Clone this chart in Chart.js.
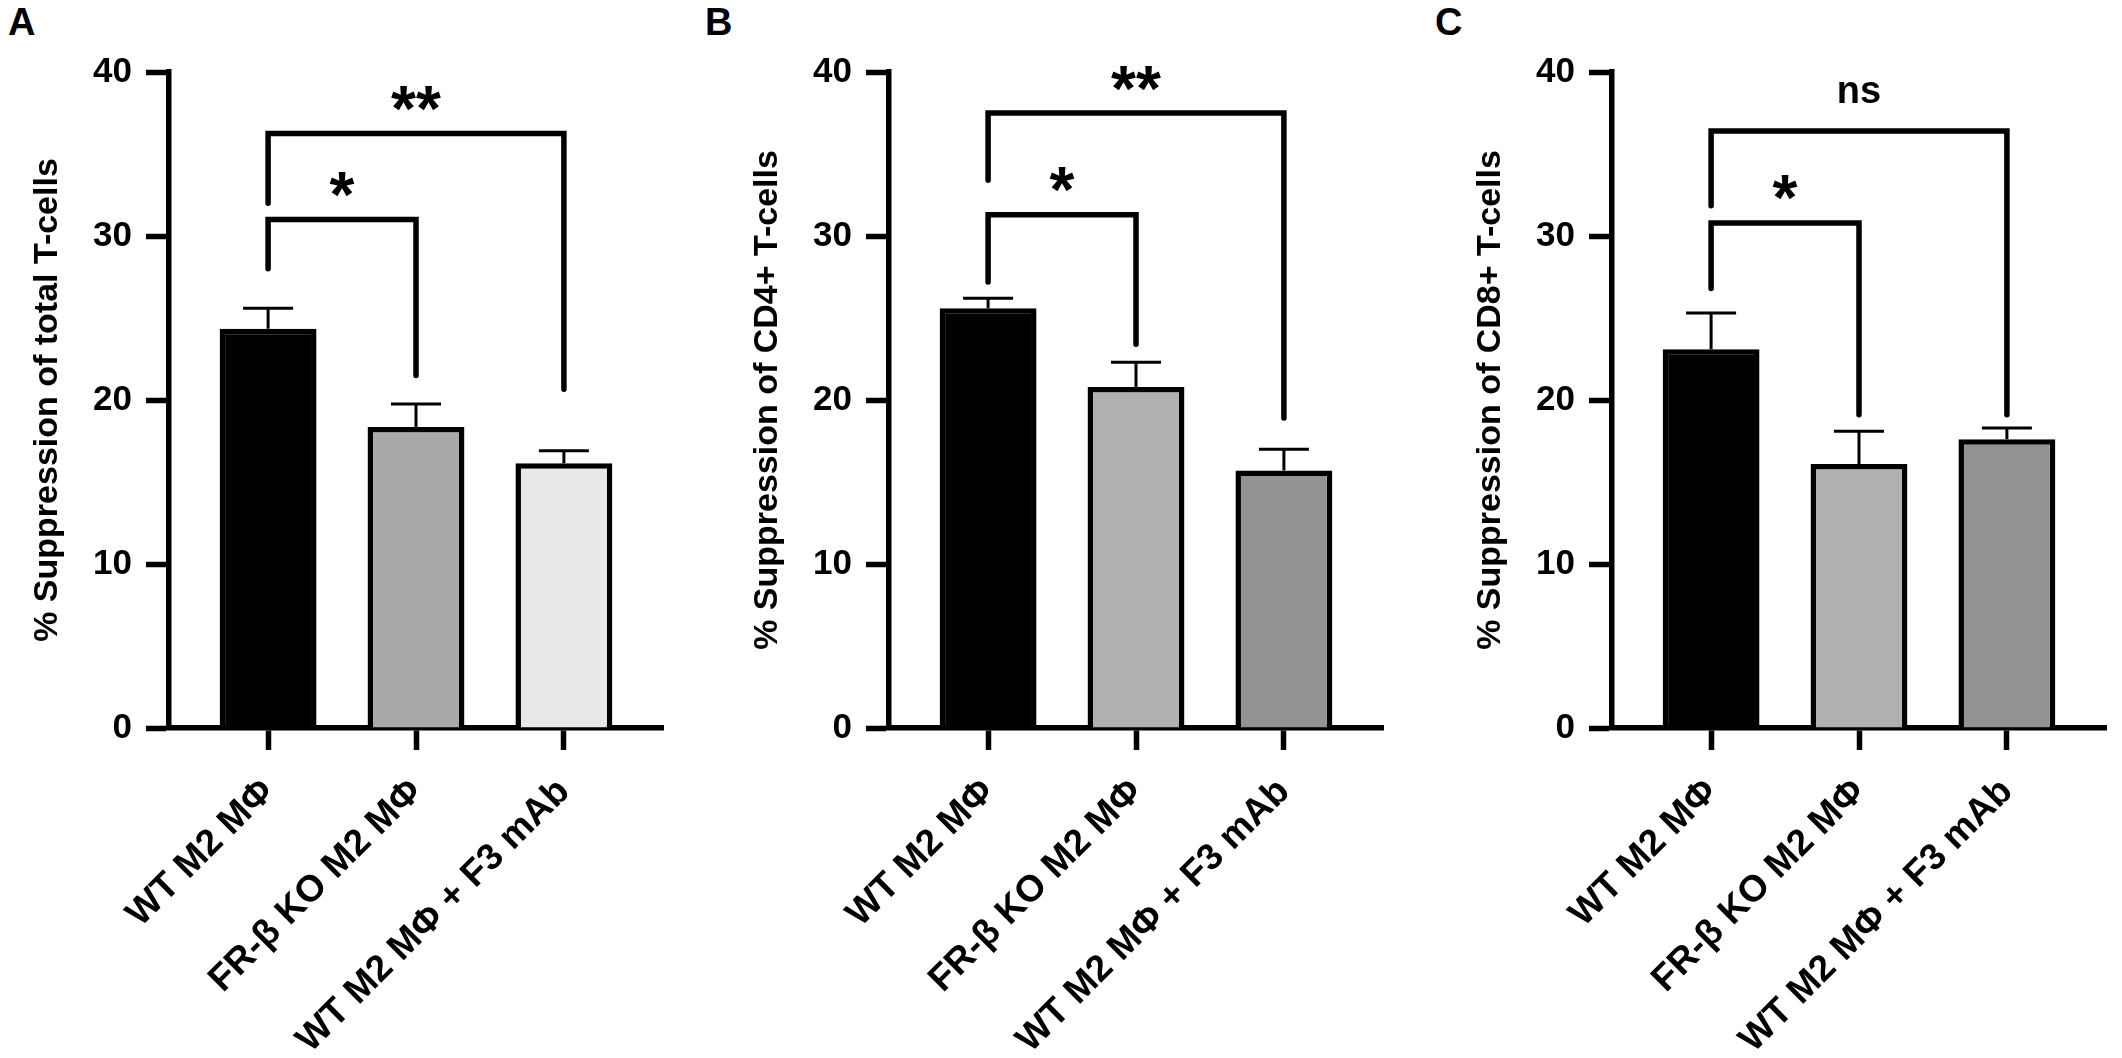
<!DOCTYPE html>
<html>
<head>
<meta charset="utf-8">
<script src="https://cdn.jsdelivr.net/npm/chart.js@4.4.1/dist/chart.umd.min.js"></script>
<style>
  html, body { margin: 0; padding: 0; background: #fff; overflow: hidden; }
  body { width: 2122px; height: 1058px; position: relative; }
  canvas { position: absolute; top: 0; }
  .panel-letter {
    position: absolute; top: 3px;
    font: bold 38px Arial, "Liberation Sans", sans-serif;
    line-height: 38px; color: #000;
  }
</style>
</head>
<body>
<div class="panel-letter" style="left:8px">A</div>
<div class="panel-letter" style="left:705px">B</div>
<div class="panel-letter" style="left:1435px">C</div>
<canvas id="chartTotal" width="720" height="1058" style="left:0px"></canvas>
<canvas id="chartCD4" width="720" height="1058" style="left:720px"></canvas>
<canvas id="chartCD8" width="720" height="1058" style="left:1443px"></canvas>
<script>
const categories = ["WT M2 MΦ", "FR-β KO M2 MΦ", "WT M2 MΦ + F3 mAb"];
const yTickValues = [0, 10, 20, 30, 40];

// % suppression, mean and upper SEM
const totalValues = [24.35, 18.35, 16.15];
const totalErrors = [1.25, 1.4, 0.75];
const cd4Values = [25.6, 20.8, 15.7];
const cd4Errors = [0.6, 1.5, 1.3];
const cd8Values = [23.1, 16.1, 17.6];
const cd8Errors = [2.2, 2.0, 0.7];

// significance brackets: [from, to, level, left leg end, right leg end, label]
const totalBrackets = [
  [0, 1, 31.0, 28.0, 21.5, "*"],
  [0, 2, 36.25, 32.0, 20.65, "**"],
];
const cd4Brackets = [
  [0, 1, 31.3, 27.2, 23.4, "*"],
  [0, 2, 37.5, 33.4, 18.9, "**"],
];
const cd8Brackets = [
  [0, 1, 30.8, 26.8, 19.1, "*"],
  [0, 2, 36.4, 31.85, 19.1, "ns"],
];

const totalColors = ["#000000", "#a9a9a9", "#e8e8e8"];
const cd48Colors = ["#000000", "#b0b0b0", "#939393"];

const FONT = "Arial, 'Liberation Sans', sans-serif";

// error bars (upper only) + brackets
const prismPlugin = {
  id: "prism",
  afterDatasetsDraw(chart) {
    const ctx = chart.ctx;
    const xs = chart.scales.x;
    const ys = chart.scales.y;
    const vals = chart.data.datasets[0].data;
    const errs = chart.options.plugins.prism.errors;
    ctx.save();
    ctx.strokeStyle = "#000";
    ctx.lineWidth = 3;
    ctx.lineCap = "butt";
    vals.forEach((p, i) => {
      const x = xs.getPixelForValue(p.x);
      const y0 = ys.getPixelForValue(p.y);
      const y1 = ys.getPixelForValue(p.y + errs[i]);
      ctx.beginPath();
      ctx.moveTo(x, y0);
      ctx.lineTo(x, y1);
      ctx.moveTo(x - 25, y1);
      ctx.lineTo(x + 25, y1);
      ctx.stroke();
    });

    const brackets = chart.options.plugins.prism.brackets;
    ctx.lineWidth = 5.5;
    ctx.lineCap = "round";
    ctx.lineJoin = "miter";
    brackets.forEach((b) => {
      const xa = xs.getPixelForValue(b[0]);
      const xb = xs.getPixelForValue(b[1]);
      const yl = ys.getPixelForValue(b[2]);
      ctx.beginPath();
      ctx.moveTo(xa, ys.getPixelForValue(b[3]));
      ctx.lineTo(xa, yl);
      ctx.lineTo(xb, yl);
      ctx.lineTo(xb, ys.getPixelForValue(b[4]));
      ctx.stroke();

      const star = b[5] !== "ns";
      ctx.font = "bold " + (star ? 64 : 38) + "px " + FONT;
      ctx.fillStyle = "#000";
      ctx.textAlign = "center";
      ctx.textBaseline = "alphabetic";
      const m = ctx.measureText(b[5]);
      const cy = yl - (star ? 35 : 39);
      const base = cy + (m.actualBoundingBoxAscent - m.actualBoundingBoxDescent) / 2;
      ctx.fillText(b[5], (xa + xb) / 2, base);
    });
    ctx.restore();
  },
};

function makePanel(id, values, errors, colors, brackets, yTitle) {
  const ctx = document.getElementById(id).getContext("2d");

  const dataBAR = {
    datasets: [
      {
        data: values.map((v, i) => ({ x: i, y: v })),
        backgroundColor: colors,
        borderColor: "#000",
        borderWidth: 5.5,
        categoryPercentage: 0.655,
        barPercentage: 1,
      },
    ],
  };

  const settingsBAR = {
    responsive: false,
    animation: false,
    layout: { padding: { top: 72, right: 57, left: 0, bottom: 0 } },
    plugins: {
      legend: { display: false },
      tooltip: { enabled: false },
      prism: { errors: errors, brackets: brackets },
    },
    scales: {
      x: {
        type: "linear",
        min: -0.67,
        max: 2.67,
        offset: false,
        afterBuildTicks: (scale) => {
          scale.ticks = categories.map((c, i) => ({ value: i }));
        },
        afterFit: (scale) => {
          scale.height = 330;
        },
        border: { display: true, color: "#000", width: 5.5 },
        grid: {
          offset: false,
          drawOnChartArea: false,
          drawTicks: true,
          tickLength: 22,
          tickWidth: 5.5,
          color: "#000",
        },
        ticks: {
          autoSkip: false,
          minRotation: 45,
          maxRotation: 45,
          padding: 20,
          color: "#000",
          font: { size: 37, weight: "bold", family: FONT },
          callback: (v) => categories[v],
        },
      },
      y: {
        min: 0,
        max: 40,
        afterBuildTicks: (scale) => {
          scale.ticks = yTickValues.map((v) => ({ value: v }));
        },
        afterFit: (scale) => {
          scale.width = 169;
        },
        border: { display: true, color: "#000", width: 5.5 },
        grid: {
          drawOnChartArea: false,
          tickLength: 23,
          tickWidth: 5.5,
          color: "#000",
        },
        title: {
          display: true,
          text: yTitle,
          color: "#000",
          padding: { top: 27, bottom: 0 },
          font: { size: 34, weight: "bold", family: FONT },
        },
        ticks: {
          padding: 14,
          color: "#000",
          font: { size: 35, weight: "bold", family: FONT },
        },
      },
    },
  };

  return new Chart(ctx, {
    type: "bar",
    data: dataBAR,
    options: settingsBAR,
    plugins: [prismPlugin],
  });
}

makePanel("chartTotal", totalValues, totalErrors, totalColors, totalBrackets,
  "% Suppression of total T-cells");
makePanel("chartCD4", cd4Values, cd4Errors, cd48Colors, cd4Brackets,
  "% Suppression of CD4+ T-cells");
makePanel("chartCD8", cd8Values, cd8Errors, cd48Colors, cd8Brackets,
  "% Suppression of CD8+ T-cells");
</script>
</body>
</html>
